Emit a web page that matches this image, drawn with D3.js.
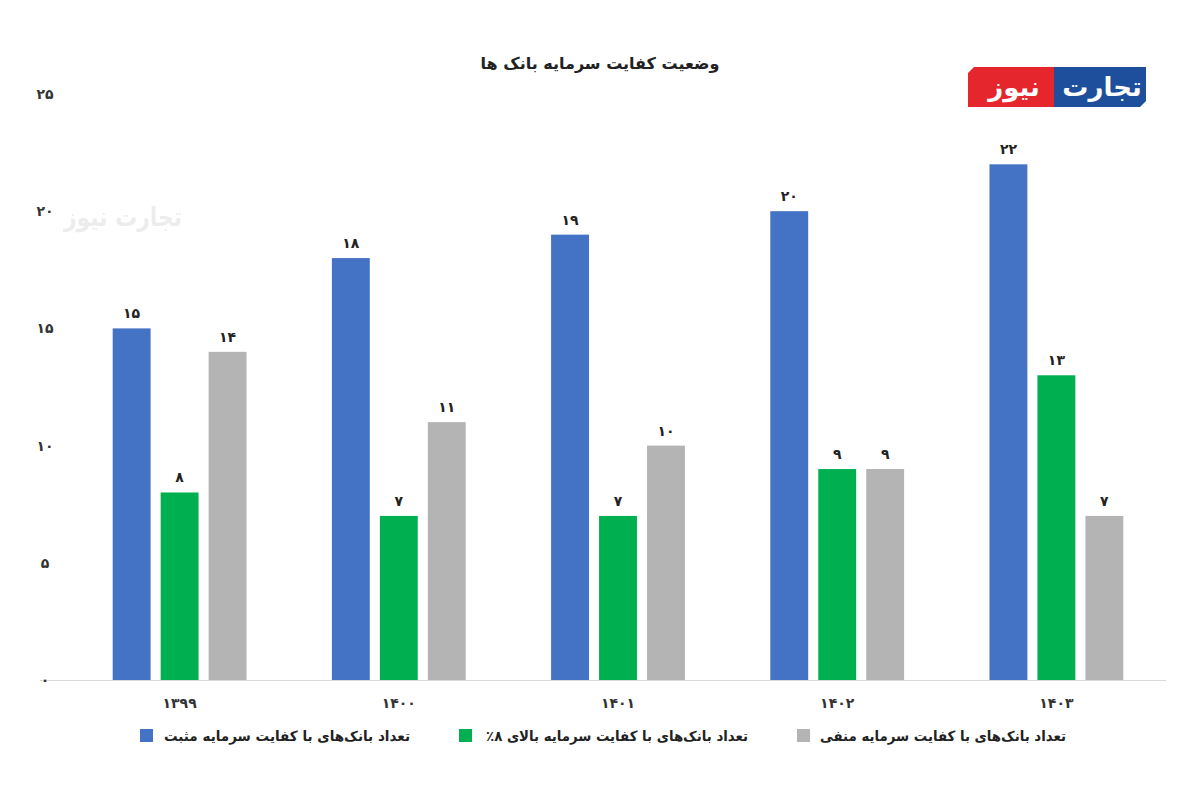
<!DOCTYPE html>
<html><head><meta charset="utf-8">
<script src="https://cdn.jsdelivr.net/npm/d3@7"></script>
<style>body{margin:0;background:#fff;}svg{font-family:"DejaVu Sans",sans-serif;}</style>
</head><body><svg id="c" width="1200" height="800"></svg>
<script>
const years = ["۱۳۹۹","۱۴۰۰","۱۴۰۱","۱۴۰۲","۱۴۰۳"];
const seriesNames = ["تعداد بانک‌های با کفایت سرمایه مثبت","تعداد بانک‌های با کفایت سرمایه بالای ۸٪","تعداد بانک‌های با کفایت سرمایه منفی"];
const colors = ["#4472c4","#00b050","#b4b4b4"];
const positive = [15,18,19,20,22];
const above8 = [8,7,7,9,13];
const negative = [14,11,10,9,7];
const yTicks = [0,5,10,15,20,25];
const yTickLabels = ["۰","۵","۱۰","۱۵","۲۰","۲۵"];
const fa = n => String(n).replace(/\d/g,d=>"۰۱۲۳۴۵۶۷۸۹"[d]);
const series=[positive,above8,negative];

const svg=d3.select("#c");
svg.append("text").attr("x",64).attr("y",226).attr("text-anchor","start").attr("font-size",26).attr("font-weight","bold").attr("fill","#000").attr("opacity",0.07)
  .attr("textLength",118).attr("lengthAdjust","spacingAndGlyphs").text("تجارت نیوز");

const y=d3.scaleLinear().domain([0,25]).range([680,94]);
const x0=d3.scaleBand().domain(years).range([70,1166]);
const x1=d3.scaleBand().domain([0,1,2]).range([0,x0.bandwidth()]).paddingInner(0.21).paddingOuter(0.89);

svg.append("text").attr("x",600).attr("y",69).attr("text-anchor","middle").attr("font-size",16).attr("font-weight","bold").attr("fill","#222").text("وضعیت کفایت سرمایه بانک ها");

svg.append("line").attr("x1",40).attr("x2",1166).attr("y1",y(0)+0.5).attr("y2",y(0)+0.5).attr("stroke","#d9d9d9");
svg.selectAll(".yt").data(yTicks).join("text").attr("x",45).attr("y",d=>y(d)+5).attr("text-anchor","middle").attr("font-size",14).attr("font-weight","bold").attr("fill","#333").text((d,i)=>yTickLabels[i]);
svg.selectAll(".xt").data(years).join("text").attr("x",d=>x0(d)+x0.bandwidth()/2).attr("y",708).attr("text-anchor","middle").attr("font-size",14).attr("font-weight","bold").attr("fill","#333").text(d=>d);

series.forEach((s,si)=>{
  const g=svg.append("g");
  g.selectAll("rect").data(s).join("rect").attr("x",(d,i)=>x0(years[i])+x1(si)).attr("width",x1.bandwidth()).attr("y",d=>y(d)).attr("height",d=>y(0)-y(d)).attr("fill",colors[si]);
  g.selectAll("text").data(s).join("text").attr("x",(d,i)=>x0(years[i])+x1(si)+x1.bandwidth()/2).attr("y",d=>y(d)-10).attr("text-anchor","middle").attr("font-size",14).attr("font-weight","bold").attr("fill","#222").text(d=>fa(d));
});

const leg=[{i:0,sx:140,tx:410,w:246},{i:1,sx:459,tx:748,w:262},{i:2,sx:797,tx:1066,w:246}];
leg.forEach(l=>{
  svg.append("rect").attr("x",l.sx).attr("y",729).attr("width",13).attr("height",13).attr("fill",colors[l.i]);
  svg.append("text").attr("x",l.tx).attr("y",741).attr("text-anchor","start").attr("direction","rtl").attr("font-size",14).attr("font-weight","bold").attr("fill","#222")
    .attr("textLength",l.w).attr("lengthAdjust","spacingAndGlyphs").text(seriesNames[l.i]);
});

const lg=svg.append("g").attr("transform","translate(968,67)");
lg.append("path").attr("d","M6,0 H90 V40 H0 V6 Z").attr("fill","#e5262c");
lg.append("path").attr("d","M86,0 H178 V34 L172,40 H86 Z").attr("fill","#1d4f9c");
lg.append("text").attr("x",134).attr("y",29).attr("text-anchor","middle").attr("font-size",26).attr("font-weight","bold").attr("fill","#fff").text("تجارت");
lg.append("text").attr("x",46).attr("y",29).attr("text-anchor","middle").attr("font-size",26).attr("font-weight","bold").attr("fill","#fff").text("نیوز");
</script></body></html>
